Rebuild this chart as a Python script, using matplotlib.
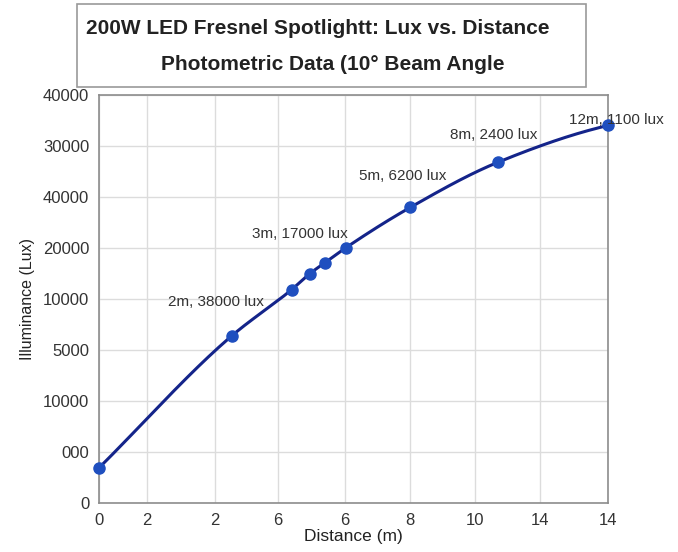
import numpy as np
import matplotlib
matplotlib.use("Agg")
import matplotlib.pyplot as plt

# data (x in axis units 0..16, y in lux)
distance = [0.0, 4.18, 6.05, 6.62, 7.11, 7.75, 9.78, 12.53, 16.0]
lux = [3430, 16400, 20900, 22470, 23570, 25000, 28970, 33390, 37010]

x_tick_pos = [0, 1.51, 3.65, 5.63, 7.73, 9.78, 11.82, 13.86, 16]
x_tick_labels = ['0', '2', '2', '6', '6', '8', '10', '14', '14']
y_tick_labels = ['0', '000', '10000', '5000', '10000', '20000', '40000', '30000', '40000']

# point labels: (index of point, text, offset in pixels)
point_labels = [
    (1, '2m, 38000 lux', (-16, 34)),
    (5, '3m, 17000 lux', (-46, 14)),
    (6, '5m, 6200 lux', (-8, 31)),
    (7, '8m, 2400 lux', (-4, 27)),
    (8, '12m, 1100 lux', (8, 5)),
]

plt.rcParams['font.family'] = ['Liberation Sans', 'DejaVu Sans']


def smooth(xs, ys, n=40):
    # monotone cubic (pchip) through the points, only for drawing the line
    x = np.asarray(xs, float)
    y = np.asarray(ys, float)
    h = np.diff(x)
    d = np.diff(y) / h
    m = np.zeros_like(y)
    for k in range(1, len(x) - 1):
        if d[k - 1] * d[k] > 0:
            w1 = 2 * h[k] + h[k - 1]
            w2 = h[k] + 2 * h[k - 1]
            m[k] = (w1 + w2) / (w1 / d[k - 1] + w2 / d[k])
    m[0] = d[0]
    m[-1] = ((2 * h[-1] + h[-2]) * d[-1] - h[-1] * d[-2]) / (h[-1] + h[-2])
    out_x, out_y = [], []
    t = np.linspace(0, 1, n)
    for k in range(len(x) - 1):
        h00 = 2 * t ** 3 - 3 * t ** 2 + 1
        h10 = t ** 3 - 2 * t ** 2 + t
        h01 = -2 * t ** 3 + 3 * t ** 2
        h11 = t ** 3 - t ** 2
        out_x.extend(x[k] + t * h[k])
        out_y.extend(h00 * y[k] + h10 * h[k] * m[k] + h01 * y[k + 1] + h11 * h[k] * m[k + 1])
    return out_x, out_y


fig = plt.figure(figsize=(6.78, 5.52), dpi=100)
ax = fig.add_axes([0.146, 0.089, 0.751, 0.739])

sx, sy = smooth(distance, lux)
ax.plot(sx, sy, color='#14248a', lw=2.2, zorder=3)
ax.plot(distance, lux, 'o', color='#1f4fbf', ms=8, zorder=4, clip_on=False)

for idx, text, (dx, dy) in point_labels:
    ax.annotate(text, (distance[idx], lux[idx]), xytext=(dx, dy),
                textcoords='offset pixels', ha='center', va='center',
                fontsize=11, color='#333333', zorder=5)

ax.set_xlim(0, 16)
ax.set_ylim(0, 40000)
ax.set_xticks(x_tick_pos)
ax.set_xticklabels(x_tick_labels)
ax.set_yticks(np.arange(0, 40001, 5000))
ax.set_yticklabels(y_tick_labels)
ax.tick_params(length=0, pad=7, labelsize=12, colors='#333333')
ax.grid(True, color='#dcdcdc', lw=1)
ax.set_axisbelow(True)
for s in ax.spines.values():
    s.set_color('#8c8c8c')
    s.set_linewidth(1.2)

ax.set_xlabel('Distance (m)', fontsize=12.5, color='#222222', labelpad=1)
ax.set_ylabel('Illuminance (Lux)', fontsize=11.5, color='#222222', labelpad=6)

# title box
fig.patches.append(plt.Rectangle((77 / 678, 1 - 87 / 552), 509 / 678, 83 / 552,
                                 transform=fig.transFigure, facecolor='white',
                                 edgecolor='#9a9a9a', lw=1.2))
fig.text(318 / 678, 1 - 28 / 552, '200W LED Fresnel Spotlightt: Lux vs. Distance',
         ha='center', va='center', fontsize=15, fontweight='bold', color='#222222')
fig.text(333 / 678, 1 - 64 / 552, 'Photometric Data (10° Beam Angle',
         ha='center', va='center', fontsize=15, fontweight='bold', color='#222222')

fig.savefig('out.png', dpi=100)
